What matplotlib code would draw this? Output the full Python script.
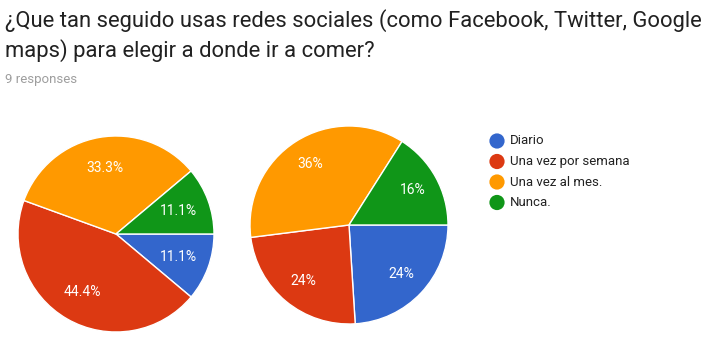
import matplotlib.pyplot as plt

plt.rcParams['font.family'] = ['Roboto', 'DejaVu Sans']

# Data
categories = ["Diario", "Una vez por semana", "Una vez al mes.", "Nunca."]
left_values = [1, 4, 3, 1]        # 9 responses
right_values = [24, 24, 36, 16]   # percent
colors = ["#3366CC", "#DC3912", "#FF9900", "#109618"]

W, H = 706, 352
fig = plt.figure(figsize=(W / 100, H / 100), dpi=100)
ax = fig.add_axes([0, 0, 1, 1])

# pies drawn in pixel-like data coords (y up)
wedge_kw = dict(edgecolor="white", linewidth=1)
text_kw = dict(color="white", fontsize=10)

ax.pie(left_values, colors=colors, startangle=0, counterclock=False,
       center=(116, H - 234), radius=98, autopct="%.1f%%", pctdistance=0.68,
       wedgeprops=wedge_kw, textprops=text_kw)
ax.pie(right_values, colors=colors, startangle=0, counterclock=False,
       center=(349, H - 225), radius=99, autopct="%.0f%%", pctdistance=0.73,
       wedgeprops=wedge_kw, textprops=text_kw)

ax.set_aspect("equal")
ax.set_xlim(0, W)
ax.set_ylim(0, H)
ax.axis("off")

# title and subtitle
ax.text(5, H - 27, "¿Que tan seguido usas redes sociales (como Facebook, Twitter, Google",
        fontsize=15.8, color="#212121", va="baseline", ha="left")
ax.text(5, H - 57, "maps) para elegir a donde ir a comer?",
        fontsize=15.8, color="#212121", va="baseline", ha="left")
ax.text(5, H - 83, "9 responses", fontsize=9.5, color="#9E9E9E",
        va="baseline", ha="left")

# legend
for i, (name, c) in enumerate(zip(categories, colors)):
    y = H - (141 + i * 20.5)
    ax.scatter([497], [y], s=120, color=c, edgecolors="none")
    ax.text(510, y, name, fontsize=9.5, color="#222222", va="center", ha="left")

fig.savefig("out.png", dpi=100, facecolor="white")
